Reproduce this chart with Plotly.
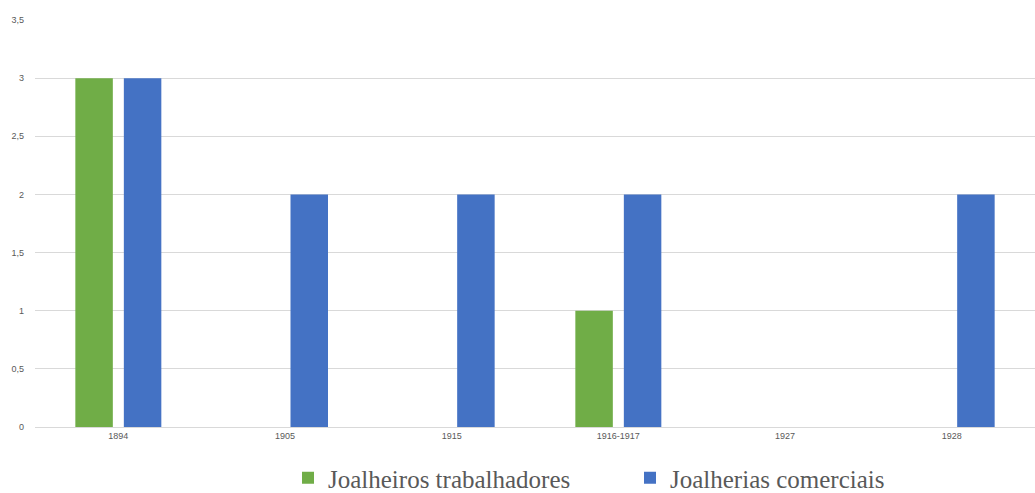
import plotly.graph_objects as go

# Categories (years) and counts per series
periods = ["1894", "1905", "1915", "1916-1917", "1927", "1928"]
joalheiros_trabalhadores = [3, 0, 0, 1, 0, 0]
joalherias_comerciais = [3, 2, 2, 2, 0, 2]
y_ticks = [0, 0.5, 1, 1.5, 2, 2.5, 3, 3.5]

GREEN = "#70AD47"
BLUE = "#4472C4"
GRID = "#D9D9D9"
TEXT = "#595959"

fig = go.Figure()
fig.add_trace(go.Bar(
    x=periods, y=joalheiros_trabalhadores, name="Joalheiros trabalhadores",
    marker=dict(color=GREEN, line=dict(width=0)),
))
fig.add_trace(go.Bar(
    x=periods, y=joalherias_comerciais, name="Joalherias comerciais",
    marker=dict(color=BLUE, line=dict(width=0)),
))

fig.update_layout(
    width=1035, height=493,
    margin=dict(l=35, r=0, t=20, b=66),
    paper_bgcolor="white", plot_bgcolor="white",
    barmode="group", bargap=0.418, bargroupgap=0.227,
    separators=", ",
    showlegend=True,
    legend=dict(
        orientation="h",
        xref="container", x=288 / 1035, xanchor="left",
        yref="container", y=15 / 493, yanchor="middle",
        font=dict(family="Liberation Serif", size=25, color=TEXT),
        itemwidth=30, entrywidth=297, traceorder="normal",
    ),
    font=dict(family="Liberation Sans, Arial, sans-serif", size=9, color=TEXT),
)
fig.update_xaxes(
    showgrid=False, showline=True, linecolor=GRID, linewidth=1,
    ticks="", tickfont=dict(size=9, color=TEXT), zeroline=False,
)
fig.update_yaxes(
    range=[0, 3.5], tickvals=y_ticks, showgrid=True, gridcolor=GRID, gridwidth=1,
    zeroline=False, showline=False, ticks="", ticklabelstandoff=10,
    tickfont=dict(size=9, color=TEXT),
)

fig.write_html("out.html")
